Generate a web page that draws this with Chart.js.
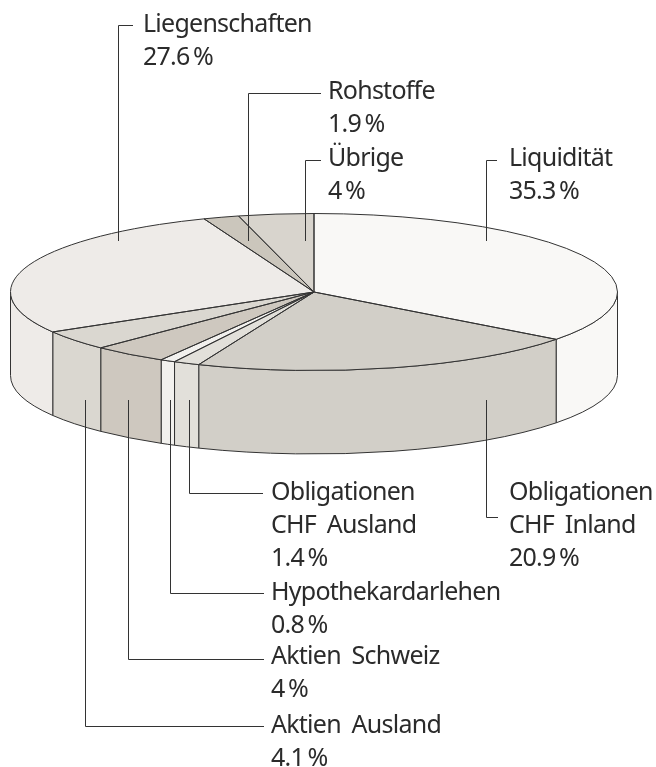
<!DOCTYPE html>
<html>
<head>
<meta charset="utf-8">
<style>html,body{margin:0;padding:0;background:#fff}canvas{display:block}</style>
<script src="https://cdn.jsdelivr.net/npm/chart.js@4"></script>
</head>
<body>
<canvas id="c" width="656" height="767"></canvas>
<script>
const categories = ['Liquidität', ['Obligationen', 'CHF Inland'], ['Obligationen', 'CHF Ausland'], 'Hypothekardarlehen', 'Aktien Schweiz', 'Aktien Ausland', 'Liegenschaften', 'Rohstoffe', 'Übrige'];
const shares = [35.3, 20.9, 1.4, 0.8, 4, 4.1, 27.6, 1.9, 4];
const sliceColors = ['#f9f8f6', '#d2cfc8', '#e2e0da', '#f2f1ee', '#cec8bf', '#dad7d0', '#eeebe8', '#cbc6bc', '#d8d4cd'];

// Callout layout, one entry per slice: leader elbow and text position.
// [lineX, lineEndY, elbowY, horizontalEndX, textX, firstBaseline]
const callouts = [
  [486.5, 241, 160.5, 497, 509, 166],
  [486.5, 400, 517.5, 498, 509, 500],
  [189.5, 400, 493.5, 263, 271, 500],
  [170.5, 400, 593.5, 264, 271, 600],
  [128.5, 400, 659.5, 264, 271, 664],
  [85.5, 400, 726.5, 264, 271, 733],
  [118.5, 241, 25.5, 133, 143, 32],
  [248.5, 241, 93.5, 321, 328, 99],
  [305.5, 241, 160.5, 321, 328, 166]
];
const lineStep = 33;
const centerY = 292, tilt = 78.5 / 303.5, depth = 83.5, ink = '#333333';
const fontSpec = '25px "Noto Sans"';

const pie3d = {
  id: 'pie3d',
  beforeDatasetsDraw(chart) {
    const ctx = chart.ctx, arcs = chart.getDatasetMeta(0).data;
    const cx = arcs[0].x, rx = arcs[0].outerRadius, ry = rx * tilt;
    ctx.save();
    ctx.strokeStyle = ink; ctx.lineWidth = 1; ctx.lineJoin = 'round';
    arcs.forEach((el, i) => {
      const a = Math.max(el.startAngle, 0), b = Math.min(el.endAngle, Math.PI);
      if (b <= a) return;
      ctx.beginPath();
      ctx.ellipse(cx, centerY, rx, ry, 0, a, b);
      ctx.ellipse(cx, centerY + depth, rx, ry, 0, b, a, true);
      ctx.closePath();
      ctx.fillStyle = sliceColors[i];
      ctx.fill();
      ctx.stroke();
    });
    ctx.restore();
    ctx.save();
    ctx.translate(cx, centerY);
    ctx.scale(1, tilt);
    ctx.translate(-cx, -arcs[0].y);
  },
  afterDatasetsDraw(chart) {
    const ctx = chart.ctx, arcs = chart.getDatasetMeta(0).data;
    ctx.restore();
    const cx = arcs[0].x, rx = arcs[0].outerRadius, ry = rx * tilt;
    ctx.save();
    ctx.strokeStyle = ink; ctx.lineWidth = 1; ctx.lineJoin = 'round';
    arcs.forEach(el => {
      ctx.beginPath();
      ctx.moveTo(cx, centerY);
      ctx.ellipse(cx, centerY, rx, ry, 0, el.startAngle, el.endAngle);
      ctx.closePath();
      ctx.stroke();
    });
    ctx.font = fontSpec;
    ctx.letterSpacing = '-0.75px';
    ctx.wordSpacing = '5px';
    ctx.fillStyle = '#2b2b2b';
    ctx.textAlign = 'left';
    ctx.textBaseline = 'alphabetic';
    callouts.forEach((c, i) => {
      const [lx, ly, ey, hx, tx, ty] = c;
      ctx.beginPath();
      ctx.moveTo(lx, ly); ctx.lineTo(lx, ey); ctx.lineTo(hx, ey);
      ctx.stroke();
      const lines = [].concat(categories[i], shares[i] + '\u2009%');
      lines.forEach((t, k) => ctx.fillText(t, tx, ty + k * lineStep));
    });
    ctx.restore();
  }
};

new Chart(document.getElementById('c'), {
  type: 'pie',
  data: {
    labels: categories,
    datasets: [{ data: shares, backgroundColor: sliceColors, borderWidth: 0 }]
  },
  options: {
    responsive: false,
    animation: false,
    layout: { padding: { left: 10.5, right: 38.5, top: 0, bottom: 160 } },
    plugins: { legend: { display: false }, tooltip: { enabled: false } }
  },
  plugins: [pie3d]
});
</script>
</body>
</html>
